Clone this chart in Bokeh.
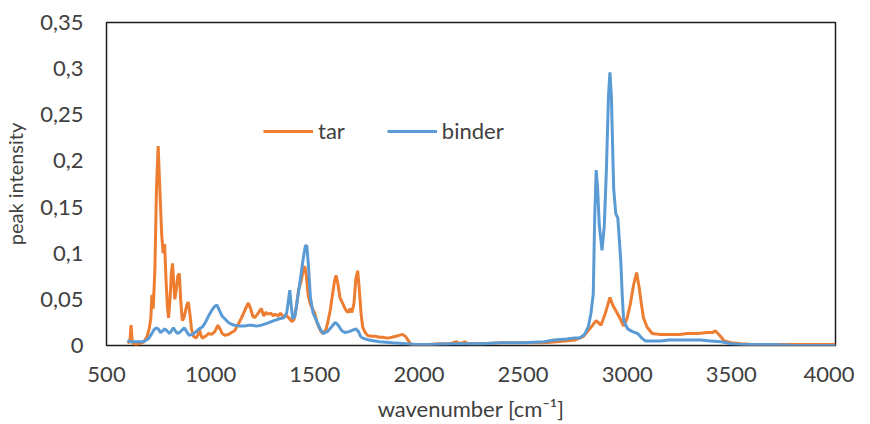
from bokeh.plotting import figure
from bokeh.models import FixedTicker
from bokeh.embed import file_html
from bokeh.resources import INLINE

# ---- data ----
tar_wn = [600, 612, 618, 624, 640, 660, 680, 695, 705, 713, 718, 724, 732, 740, 748, 756, 765, 772,
          779, 786, 793, 798, 805, 812, 817, 822, 828, 835, 842, 850, 856, 864, 872, 880, 887, 893,
          900, 908, 918, 930, 940, 946, 952, 960, 975, 990, 1005, 1020, 1035, 1045, 1055, 1068, 1085,
          1100, 1115, 1130, 1148, 1160, 1172, 1181, 1192, 1202, 1210, 1225, 1243, 1255, 1265, 1275,
          1290, 1300, 1310, 1323, 1335, 1348, 1361, 1375, 1390, 1400, 1410, 1422, 1435, 1445, 1452,
          1460, 1468, 1478, 1489, 1500, 1510, 1520, 1530, 1541, 1555, 1565, 1574, 1585, 1595, 1602,
          1610, 1621, 1635, 1645, 1654, 1662, 1670, 1678, 1688, 1697, 1706, 1714, 1722, 1730, 1742,
          1753, 1770, 1790, 1810, 1825, 1850, 1870, 1890, 1905, 1919, 1935, 1950, 1962, 1990, 2050,
          2100, 2150, 2180, 2195, 2221, 2235, 2300, 2400, 2500, 2600, 2662, 2700, 2750, 2790, 2820,
          2851, 2874, 2895, 2917, 2932, 2945, 2964, 2983, 3000, 3015, 3030, 3045, 3058, 3068, 3078,
          3095, 3120, 3160, 3200, 3250, 3290, 3340, 3385, 3410, 3423, 3440, 3466, 3500, 3546, 3600,
          3700, 3800, 3900, 4000]
tar_int = [0.003, 0.004, 0.022, 0.003, 0.001, 0.002, 0.004, 0.010, 0.018, 0.030, 0.055, 0.040, 0.080,
           0.170, 0.216, 0.170, 0.120, 0.100, 0.110, 0.070, 0.040, 0.030, 0.050, 0.080, 0.089, 0.070,
           0.050, 0.060, 0.075, 0.078, 0.050, 0.027, 0.030, 0.038, 0.045, 0.047, 0.035, 0.018, 0.010,
           0.008, 0.012, 0.018, 0.012, 0.008, 0.010, 0.013, 0.012, 0.015, 0.022, 0.018, 0.013, 0.011,
           0.012, 0.014, 0.016, 0.022, 0.030, 0.036, 0.042, 0.046, 0.040, 0.032, 0.030, 0.034, 0.040,
           0.032, 0.036, 0.034, 0.035, 0.032, 0.034, 0.032, 0.035, 0.031, 0.033, 0.030, 0.026, 0.028,
           0.040, 0.060, 0.070, 0.082, 0.086, 0.075, 0.055, 0.045, 0.040, 0.035, 0.025, 0.020, 0.015,
           0.013, 0.018, 0.028, 0.038, 0.055, 0.070, 0.076, 0.068, 0.052, 0.045, 0.040, 0.037, 0.036,
           0.040, 0.036, 0.045, 0.072, 0.081, 0.060, 0.035, 0.020, 0.014, 0.011, 0.010, 0.010, 0.009,
           0.009, 0.008, 0.009, 0.010, 0.011, 0.012, 0.010, 0.005, 0.001, 0.001, 0.001, 0.002, 0.002,
           0.004, 0.002, 0.004, 0.002, 0.002, 0.003, 0.003, 0.003, 0.004, 0.005, 0.006, 0.010, 0.018,
           0.027, 0.022, 0.035, 0.052, 0.043, 0.038, 0.030, 0.021, 0.030, 0.045, 0.065, 0.079, 0.062,
           0.045, 0.030, 0.020, 0.013, 0.012, 0.012, 0.012, 0.013, 0.013, 0.014, 0.014, 0.016, 0.012,
           0.005, 0.003, 0.002, 0.001, 0.001, 0.001, 0.001, 0.001]

binder_wn = [600, 620, 650, 675, 700, 715, 728, 737, 748, 760, 770, 779, 790, 803, 812, 821, 830, 841,
             855, 874, 885, 897, 912, 930, 945, 960, 975, 990, 1005, 1018, 1030, 1042, 1055, 1068,
             1085, 1100, 1115, 1140, 1160, 1181, 1200, 1220, 1243, 1270, 1304, 1330, 1351, 1365, 1374,
             1380, 1386, 1394, 1405, 1420, 1432, 1445, 1455, 1462, 1470, 1479, 1492, 1512, 1525, 1541,
             1560, 1580, 1598, 1612, 1630, 1645, 1665, 1685, 1697, 1710, 1720, 1730, 1760, 1810, 1870,
             1938, 1985, 2050, 2150, 2300, 2400, 2500, 2600, 2650, 2709, 2740, 2770, 2795, 2813, 2826,
             2837, 2844, 2851, 2858, 2866, 2879, 2890, 2900, 2910, 2917, 2924, 2935, 2945, 2955, 2962,
             2969, 2976, 2983, 3002, 3025, 3050, 3070, 3087, 3120, 3160, 3200, 3250, 3300, 3350, 3400,
             3450, 3500, 3550, 3600, 3700, 3800, 3900, 4000]
binder_int = [0.005, 0.004, 0.004, 0.004, 0.007, 0.012, 0.017, 0.019, 0.018, 0.014, 0.016, 0.018, 0.016,
              0.013, 0.016, 0.019, 0.016, 0.013, 0.015, 0.019, 0.015, 0.011, 0.012, 0.015, 0.018, 0.020,
              0.025, 0.032, 0.038, 0.042, 0.044, 0.038, 0.032, 0.029, 0.025, 0.023, 0.022, 0.021, 0.021,
              0.022, 0.022, 0.021, 0.022, 0.024, 0.027, 0.029, 0.030, 0.035, 0.050, 0.060, 0.045, 0.029,
              0.032, 0.055, 0.074, 0.095, 0.108, 0.108, 0.085, 0.052, 0.035, 0.025, 0.018, 0.013, 0.015,
              0.020, 0.025, 0.022, 0.016, 0.014, 0.015, 0.017, 0.018, 0.015, 0.010, 0.008, 0.006, 0.004,
              0.003, 0.002, 0.001, 0.001, 0.002, 0.002, 0.003, 0.003, 0.004, 0.006, 0.007, 0.008, 0.008,
              0.012, 0.020, 0.035, 0.056, 0.140, 0.190, 0.170, 0.130, 0.103, 0.130, 0.190, 0.270, 0.296,
              0.270, 0.170, 0.143, 0.138, 0.115, 0.092, 0.055, 0.027, 0.018, 0.015, 0.013, 0.008, 0.005,
              0.005, 0.005, 0.006, 0.006, 0.006, 0.006, 0.005, 0.004, 0.002, 0.001, 0.001, 0.001, 0.000,
              0.000, 0.000]

x_ticks = [500, 1000, 1500, 2000, 2500, 3000, 3500, 4000]
y_ticks = [0, 0.05, 0.1, 0.15, 0.2, 0.25, 0.3, 0.35]
y_tick_labels = ["0", "0,05", "0,1", "0,15", "0,2", "0,25", "0,3", "0,35"]

FONT = "Lato"
TXT = "#404040"

p = figure(width=854, height=424, x_range=(500, 4000), y_range=(0, 0.35),
           output_backend="svg", toolbar_location=None,
           min_border_left=95, min_border_right=19, min_border_top=22, min_border_bottom=79)

p.line(tar_wn, tar_int, line_color="#ED7D31", line_width=3, legend_label="tar")
p.line(binder_wn, binder_int, line_color="#5B9BD5", line_width=3, legend_label="binder")

p.xgrid.visible = False
p.ygrid.visible = False
p.outline_line_color = "#1a1a1a"
p.outline_line_width = 1.5

p.xaxis.ticker = FixedTicker(ticks=x_ticks)
p.yaxis.ticker = FixedTicker(ticks=y_ticks)
p.yaxis.major_label_overrides = {t: l for t, l in zip(y_ticks, y_tick_labels)}

for ax in (p.xaxis[0], p.yaxis[0]):
    ax.major_tick_in = 0
    ax.major_tick_out = 0
    ax.minor_tick_in = 0
    ax.minor_tick_out = 0
    ax.axis_line_color = None
    ax.major_label_text_font = FONT
    ax.major_label_text_font_size = "22px"
    ax.major_label_text_color = TXT
    ax.axis_label_text_font = FONT
    ax.axis_label_text_font_style = "normal"
    ax.axis_label_text_color = TXT

p.yaxis.axis_label = "peak intensity"
p.xaxis.axis_label = "wavenumber [cm\u207b\u00b9]"
p.yaxis.axis_label_text_font_size = "20px"
p.xaxis.axis_label_text_font_size = "22px"
p.yaxis.major_label_standoff = 23
p.xaxis.major_label_standoff = 21
p.yaxis.axis_label_standoff = 10
p.xaxis.axis_label_standoff = 10

lg = p.legend[0]
lg.orientation = "horizontal"
lg.location = (157, 201)
lg.glyph_width = 50
lg.glyph_height = 20
lg.label_height = 20
lg.label_standoff = 5
lg.spacing = 42
lg.padding = 0
lg.margin = 0
lg.border_line_color = None
lg.background_fill_alpha = 0
lg.label_text_font = FONT
lg.label_text_font_size = "22px"
lg.label_text_color = TXT

open("out.html", "w").write(file_html(p, INLINE))
